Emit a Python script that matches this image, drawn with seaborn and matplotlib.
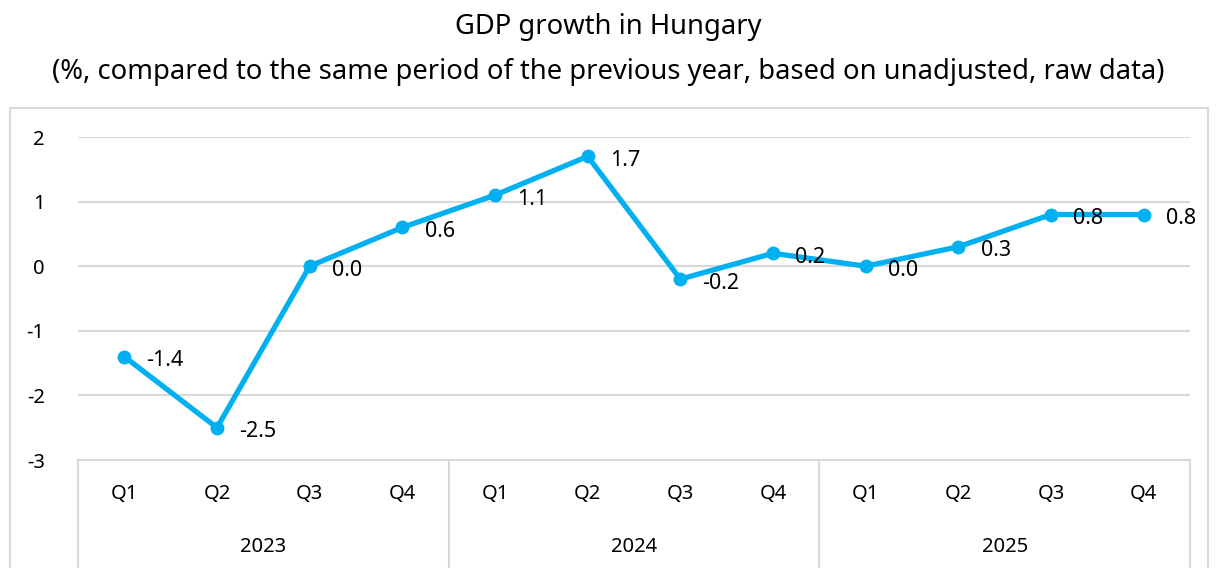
import matplotlib
matplotlib.use("Agg")
import matplotlib.pyplot as plt
import seaborn as sns
import pandas as pd
from matplotlib.patches import Rectangle

years = ["2023", "2024", "2025"]
quarters = ["Q1", "Q2", "Q3", "Q4"]
gdp_growth = [-1.4, -2.5, 0.0, 0.6, 1.1, 1.7, -0.2, 0.2, 0.0, 0.3, 0.8, 0.8]

labels = [f"{y} {q}" for y in years for q in quarters]
df = pd.DataFrame({"period": labels, "pos": list(range(len(labels))), "growth": gdp_growth})

sns.set_theme(style="white")
plt.rcParams["font.family"] = ["Noto Sans", "DejaVu Sans"]

W, H = 1216, 568
fig = plt.figure(figsize=(W / 100, H / 100), dpi=100)
ax = fig.add_axes([78 / W, 1 - 460 / H, (1190 - 78) / W, (460 - 137) / H])

color = "#00B0F0"
grid = "#d9d9d9"

sns.lineplot(data=df, x="pos", y="growth", ax=ax, color=color, linewidth=3.8,
             marker="o", markersize=10, markeredgewidth=0, zorder=3)

for xpos, v in zip(df["pos"], df["growth"]):
    ax.annotate(f"{v:.1f}", (xpos, v), xytext=(16, -3), textcoords="offset points",
                ha="left", va="center", fontsize=15.5, color="black", zorder=4)

ax.set_xlim(-0.5, len(labels) - 0.5)
ax.set_ylim(-3, 2)
ax.set_yticks([-3, -2, -1, 0, 1, 2])
ax.set_yticklabels(["-3", "-2", "-1", "0", "1", "2"])
for yv in [-2, -1, 0, 1, 2]:
    ax.axhline(yv, color=grid, linewidth=1.5, zorder=1)

ax.set_xticks(df["pos"])
ax.set_xticklabels([q for _ in years for q in quarters])
ax.tick_params(axis="x", length=0, pad=17, labelsize=14.5, colors="black")
ax.tick_params(axis="y", length=0, pad=24, labelsize=14.5, colors="black")
ax.set_xlabel("")
ax.set_ylabel("")

for s in ["top", "right", "left"]:
    ax.spines[s].set_visible(False)
ax.spines["bottom"].set_color(grid)
ax.spines["bottom"].set_linewidth(1.5)

# group separators and year labels
trans = ax.get_xaxis_transform()
n = len(quarters)
for i in range(len(years) + 1):
    xs = i * n - 0.5
    ax.plot([xs, xs], [0, -0.34], transform=trans, color=grid, linewidth=1.5, clip_on=False)
for i, y in enumerate(years):
    ax.text(i * n + (n - 1) / 2, -0.27, y, transform=trans, ha="center", va="center",
            fontsize=14.5, color="black")

# outer chart border
fig.patches.append(Rectangle((10 / W, -0.05), (1208 - 10) / W, 1 - 108 / H + 0.05,
                             transform=fig.transFigure, fill=False, edgecolor=grid,
                             linewidth=1.5))

fig.text(0.5, 1 - 27 / H, "GDP growth in Hungary", ha="center", va="center",
         fontsize=19.7, color="black")
fig.text(0.5, 1 - 72 / H,
         "(%, compared to the same period of the previous year, based on unadjusted, raw data)",
         ha="center", va="center", fontsize=19.7, color="black")

fig.savefig("out.png", dpi=100)
